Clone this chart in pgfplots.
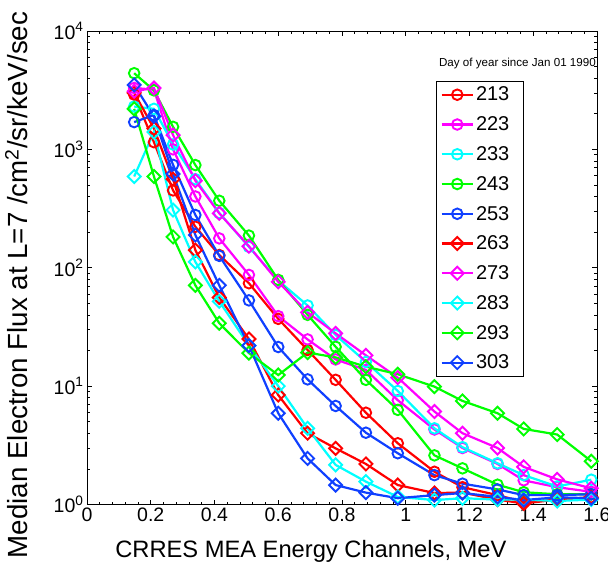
\documentclass[border=0pt]{standalone}
\usepackage{fontspec}
\setmainfont{Liberation Sans}
\usepackage{pgfplots}
\pgfplotsset{compat=1.18}
\usepackage{pgfplotstable}
\definecolor{cR}{RGB}{255,0,0}
\definecolor{cM}{RGB}{255,0,255}
\definecolor{cC}{RGB}{0,255,255}
\definecolor{cG}{RGB}{0,255,0}
\definecolor{cB}{RGB}{16,64,255}
\newcommand{\legtxt}[1]{\makebox[41pt][l]{#1}}
\pgfplotstableread{
x     d213  d223  d233  d243  d253  d263  d273  d283  d293  d303
0.148 2900  3300  2300  4400  1700  3000  3100  590   2200  3500
0.210 1150  3200  2200  3150  1950  1500  3300  1400  590   1900
0.270 450   1000  1100  1550  740   560   1320  307   182   620
0.340 222   400   560   737   279   141   543   112   71    189
0.415 128   177   290   368   126   56    288   52    34    71
0.508 74    87    150   187   53    25    152   22    19    22
0.600 37    39    78    79    21.4  8.4   76    10    12.4  5.9
0.692 20.2  24.8  48    40    11.4  4.0   42    4.4   19.2  2.45
0.780 11.3  16.8  27    21.5  6.8   2.98  27.9  2.16  17.5  1.46
0.875 5.96  13.7  16    11.3  4.04  2.2   18.2  1.56  14.6  1.26
0.975 3.29  7.6   9.1   6.3   2.71  1.46  11.8  1.16  12.6  1.13
1.090 1.89  4.3   4.4   2.6   1.77  1.25  6.1   1.09  9.9   1.2
1.178 1.4   3.0   3.05  2.02  1.5   1.26  4.0   1.13  7.5   1.25
1.288 1.2   2.2   2.23  1.47  1.34  1.1   3.0   1.1   5.9   1.16
1.370 1.05  1.6   1.77  1.27  1.2   1.02  2.08  1.1   4.35  1.09
1.475 1.1   1.4   1.42  1.22  1.2   1.1   1.63  1.07  3.9   1.15
1.582 1.15  1.28  1.62  1.22  1.22  1.15  1.37  1.1   2.32  1.13
}\data
\begin{document}
\begin{tikzpicture}
\useasboundingbox (0,0) rectangle (608pt,567pt);
\begin{axis}[
  at={(87pt,62.5pt)}, anchor=south west,
  scale only axis, width=510pt, height=473.5pt,
  xmin=0, xmax=1.6, ymin=1, ymax=10000, ymode=log,
  xtick={0,0.2,0.4,0.6,0.8,1,1.2,1.4,1.6},
  xticklabels={0,0.2,0.4,0.6,0.8,1,1.2,1.4,1.6},
  minor x tick num=4,
  ytick={1,10,100,1000,10000},
  yticklabels={10\textsuperscript{0},10\textsuperscript{1},10\textsuperscript{2},10\textsuperscript{3},10\textsuperscript{4}},
  minor ytick={2,3,4,5,6,7,8,9,20,30,40,50,60,70,80,90,200,300,400,500,600,700,800,900,2000,3000,4000,5000,6000,7000,8000,9000},
  tick label style={font=\fontsize{19.5}{21}\selectfont},
  major tick length=5pt, minor tick length=3pt,
  tick style={black, line width=0.6pt},
  axis line style={line width=0.8pt},
  xlabel={CRRES MEA Energy Channels, MeV},
  ylabel={Median Electron Flux at L=7 /cm\textsuperscript{2}/sr/keV/sec},
  xlabel style={font=\fontsize{23.7}{25}\selectfont, at={(axis description cs:0.439,-0.1115)}, anchor=base},
  ylabel style={font=\fontsize{27.7}{28}\selectfont, at={(axis description cs:-0.138,0.4636)}, anchor=center},
  clip=false,
  legend style={at={(axis description cs:0.8555,0.895)}, anchor=north east, draw=black, line width=0.6pt,
    font=\fontsize{20}{22}\selectfont, inner xsep=4pt, inner ysep=4pt, row sep=10.3pt},
  legend cell align=left,
  legend image code/.code={\draw[mark repeat=2,mark phase=2] plot coordinates {(0cm,0cm) (0.55cm,0cm) (1.1cm,0cm)};},
  cmark/.style={line width=2.2pt, mark=o, mark size=5.3pt, mark options={solid, line width=1.9pt, fill=none}},
  dmark/.style={line width=2.2pt, mark=square, mark size=4.6pt, mark options={solid, line width=1.9pt, fill=none, rotate=45}},
]
\addplot[cR, cmark] table[x=x,y=d213]{\data};
\addlegendentry{\legtxt{213}}
\addplot[cM, cmark] table[x=x,y=d223]{\data};
\addlegendentry{\legtxt{223}}
\addplot[cC, cmark] table[x=x,y=d233]{\data};
\addlegendentry{\legtxt{233}}
\addplot[cG, cmark] table[x=x,y=d243]{\data};
\addlegendentry{\legtxt{243}}
\addplot[cB, cmark] table[x=x,y=d253]{\data};
\addlegendentry{\legtxt{253}}
\addplot[cR, dmark] table[x=x,y=d263]{\data};
\addlegendentry{\legtxt{263}}
\addplot[cM, dmark] table[x=x,y=d273]{\data};
\addlegendentry{\legtxt{273}}
\addplot[cC, dmark] table[x=x,y=d283]{\data};
\addlegendentry{\legtxt{283}}
\addplot[cG, dmark] table[x=x,y=d293]{\data};
\addlegendentry{\legtxt{293}}
\addplot[cB, dmark] table[x=x,y=d303]{\data};
\addlegendentry{\legtxt{303}}
\node[anchor=base east, font=\fontsize{11.6}{14}\selectfont, inner sep=0pt] at (axis description cs:0.998,0.924) {Day of year since Jan 01 1990};
\end{axis}
\end{tikzpicture}
\end{document}
